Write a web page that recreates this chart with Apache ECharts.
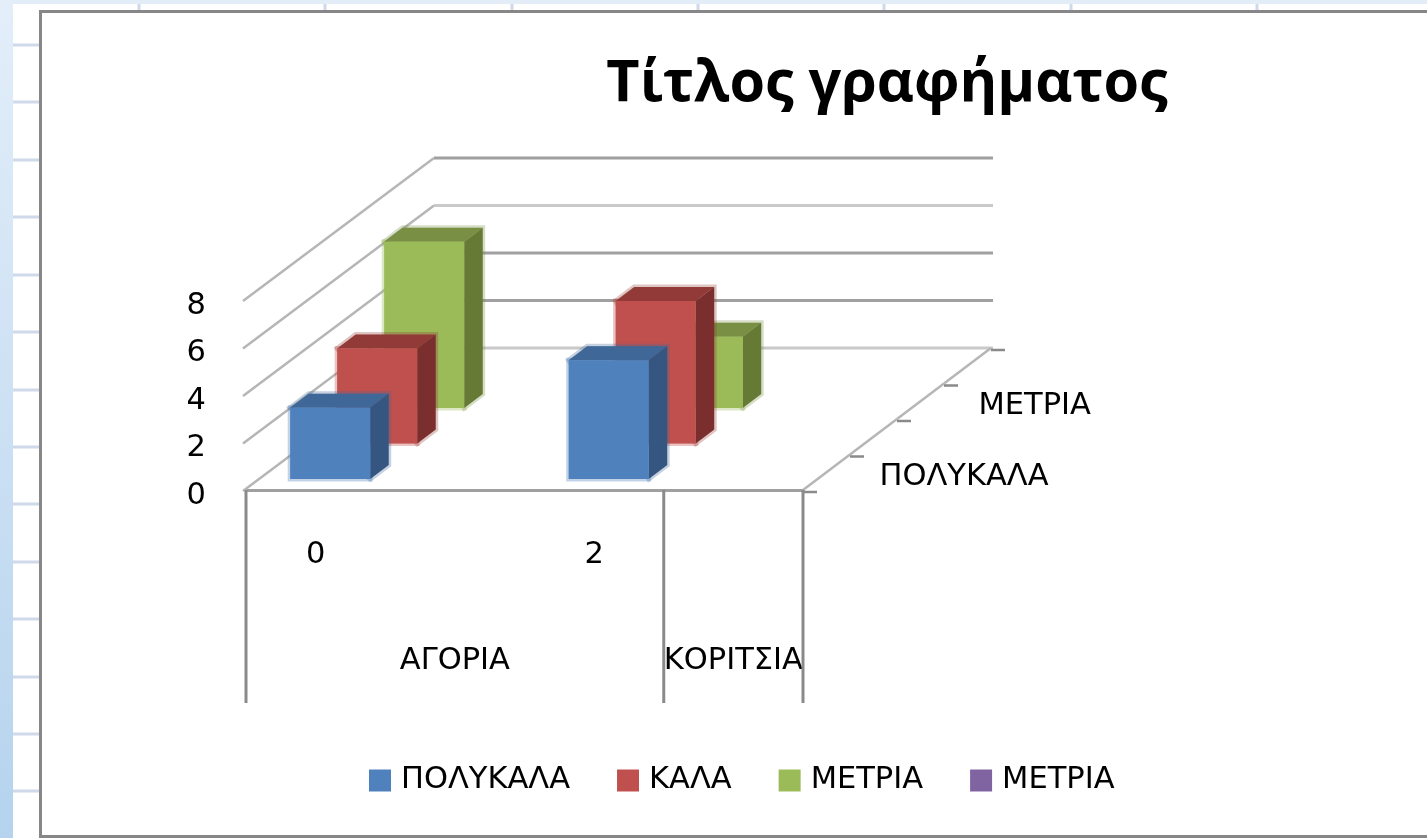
<!DOCTYPE html>
<html><head><meta charset="utf-8">
<style>html,body{margin:0;padding:0;background:#fff}#c{width:1427px;height:838px}</style>
<script src="https://cdn.jsdelivr.net/npm/echarts@6/dist/echarts.min.js"></script>
</head><body><div id="c"></div>
<script>
const titleText = 'Τίτλος γραφήματος';
const categories = ['0', '', '2', ''];
const groupLabels = ['', 'ΑΓΟΡΙΑ', '', 'ΚΟΡΙΤΣΙΑ'];
const groupBoundaries = [0, 3, 4];
const yTicks = [0, 2, 4, 6, 8];
const depthLabels = ['ΠΟΛΥΚΑΛΑ', '', 'ΜΕΤΡΙΑ', '', ''];
const legendNames = ['ΠΟΛΥΚΑΛΑ', 'ΚΑΛΑ', 'ΜΕΤΡΙΑ', 'ΜΕΤΡΙΑ '];
const polykala = [3, null, 5, null];
const kala = [4, null, 6, null];
const metria = [7, null, 3, null];
const metria2 = [null, null, null, null];

const FONT = 'DejaVu Sans';
const FS = 30.5;
const LAYER_DX = 47, LAYER_DY = -35.5, LAYERS = 4;
const BAR_W = 80, BAR_DX = 18.5, BAR_DY = -14, BAR_START = 0.31;
const palettes = [
  {front:'#4f81bd', side:'#355681', top:'#3f6797'},
  {front:'#c0504d', side:'#7a2f2e', top:'#923a38'},
  {front:'#9bbb59', side:'#667935', top:'#788f44'},
  {front:'#8064a2', side:'#54406d', top:'#66507f'}
];
const seriesValues = [polykala, kala, metria, metria2];

function poly(points, fill, extra) {
  return Object.assign({type:'polygon', shape:{points}, style:{fill}}, extra || {});
}
function barRenderer(layer) {
  const p = palettes[layer];
  return function (params, api) {
    const v = api.value(1);
    if (v == null || isNaN(v)) return null;
    const c = api.value(0);
    const base = api.coord([c, 0]);
    const top = api.coord([c, v]);
    const off = layer + BAR_START;
    const x0 = base[0] - BAR_W / 2 + off * LAYER_DX;
    const x1 = x0 + BAR_W;
    const yb = base[1] + off * LAYER_DY;
    const yt = top[1] + off * LAYER_DY;
    const backPart = [[x0,yt],[x0+BAR_DX,yt+BAR_DY],[x1+BAR_DX,yt+BAR_DY],[x1+BAR_DX,yb+BAR_DY],[x1,yb]];
    return {type:'group', children:[
      {type:'polygon', shape:{points:backPart}, style:{fill:p.top, stroke:p.top, lineWidth:5, opacity:0.3}},
      {type:'rect', shape:{x:x0,y:yt,width:BAR_W,height:yb-yt}, style:{fill:p.front, stroke:p.front, lineWidth:5, opacity:0.35}},
      poly([[x0,yt],[x0+BAR_DX,yt+BAR_DY],[x1+BAR_DX,yt+BAR_DY],[x1,yt]], p.top),
      poly([[x1,yt],[x1+BAR_DX,yt+BAR_DY],[x1+BAR_DX,yb+BAR_DY],[x1,yb]], p.side),
      {type:'rect', shape:{x:x0,y:yt,width:BAR_W,height:yb-yt}, style:{fill:p.front}}
    ]};
  };
}
function line(x1,y1,x2,y2,stroke,lineWidth) {
  return {type:'line', shape:{x1,y1,x2,y2}, style:{stroke,lineWidth}};
}
function wallRenderer(params, api) {
  const v = api.value(0);
  const left = api.coord([0, v]);
  const band = api.size([1, 0])[0];
  const x0 = left[0] - band / 2;
  const bx = x0 + LAYERS * LAYER_DX, by = left[1] + LAYERS * LAYER_DY;
  const xEnd = x0 + band * categories.length + LAYERS * LAYER_DX;
  const light = (v === 0 || v === 6);
  return {type:'group', children:[
    line(x0-3, left[1]+1, bx, by, '#b6b6b6', 2.5),
    line(bx, by, xEnd+2, by, light ? '#c9c9c9' : '#a0a0a0', 3)
  ]};
}
function depthRenderer(params, api) {
  const i = params.dataIndex;
  const base = api.coord([categories.length - 1, 0]);
  const band = api.size([1, 0])[0];
  const x0 = base[0] + band / 2, y0 = base[1];
  const children = [];
  const tx = x0 + i * LAYER_DX, ty = y0 + i * LAYER_DY;
  if (i < LAYERS) children.push(line(tx, ty, tx + LAYER_DX, ty + LAYER_DY, '#b6b6b6', 2.5));
  children.push(line(tx, ty + 2, tx + 14, ty + 2, '#8a8a8a', 2.5));
  const label = depthLabels[i];
  if (label) children.push({type:'text', style:{
    x: tx + LAYER_DX / 2 + 53 + i * 2.5, y: ty + LAYER_DY / 2 + 5, text: label,
    fill:'#000', font:FS+'px "'+FONT+'"', align:'left', verticalAlign:'middle'}});
  return {type:'group', children};
}
function boundaryRenderer(params, api) {
  const idx = api.value(0);
  const base = api.coord([0, 0]);
  const band = api.size([1, 0])[0];
  const x = base[0] - band / 2 + idx * band;
  return line(x, base[1], x, base[1] + 213, '#8a8a8a', 3);
}

const hRows = [45,102,160,217,275,332,390,447,504,562,619,677,734,791];
const vCols = [139,325,512,698,884,1071,1257];
const deco = [
  {type:'rect', z:-10, shape:{x:0,y:0,width:1427,height:4}, style:{fill:'#e3edf8'}},
  {type:'rect', z:-9, shape:{x:0,y:0,width:13,height:838}, style:{fill:new echarts.graphic.LinearGradient(0,0,0,1,[{offset:0,color:'#e3eef9'},{offset:1,color:'#b5d3ee'}])}},
  {type:'rect', z:-8, shape:{x:40.5,y:11.5,width:1500,height:825}, style:{fill:'#fff',stroke:'#878787',lineWidth:3}}
];
hRows.forEach(y => deco.push({type:'rect', z:-9, shape:{x:13,y:y-1.5,width:26,height:3}, style:{fill:'#ced9e9'}}));
vCols.forEach(x => deco.push({type:'rect', z:-9, shape:{x:x-1.5,y:4,width:3,height:6}, style:{fill:'#ced9e9'}}));

const barSeries = legendNames.map((name, i) => ({
  name, type:'custom', z: 10 - i,
  coordinateSystem:'cartesian2d', xAxisIndex:0, yAxisIndex:0,
  itemStyle:{color:palettes[i].front},
  renderItem: barRenderer(i),
  encode:{x:0,y:1},
  data: seriesValues[i].map((v, c) => [c, v == null ? '-' : v])
}));

const chart = echarts.init(document.getElementById('c'), null, {renderer:'canvas'});
chart.setOption({
  animation:false,
  backgroundColor:'#fff',
  title:{text:titleText, left:887, top:56, textAlign:'center', padding:0,
    textStyle:{fontFamily:'Open Sans', fontSize:57.5, fontWeight:'bold', color:'#000'}},
  grid:{left:246, right:624, top:300, bottom:348},
  legend:{left:369, top:765, padding:0, icon:'rect', itemWidth:22, itemHeight:22, itemGap:47,
    selectedMode:false, data:legendNames, formatter:n => n.trim(),
    textStyle:{fontFamily:FONT, fontSize:FS, color:'#000', padding:[0,0,0,5]}},
  xAxis:[
    {type:'category', data:categories, position:'bottom',
      axisLine:{show:true, lineStyle:{color:'#a0a0a0', width:3}}, axisTick:{show:false},
      axisLabel:{interval:0, margin:50, fontFamily:FONT, fontSize:FS, color:'#000'}},
    {type:'category', data:groupLabels, position:'bottom',
      axisLine:{show:false}, axisTick:{show:false},
      axisLabel:{interval:0, margin:156, fontFamily:FONT, fontSize:FS, color:'#000'}}
  ],
  yAxis:{type:'value', min:0, max:8, interval:2,
    axisLine:{show:false}, axisTick:{show:false}, splitLine:{show:false},
    axisLabel:{margin:40, fontFamily:FONT, fontSize:FS, color:'#000', verticalAlign:'top', lineHeight:12}},
  graphic:{elements:deco},
  series:[
    {type:'custom', name:'walls', z:1, renderItem:wallRenderer, encode:{y:0}, data:yTicks.map(v=>[v]), silent:true},
    {type:'custom', name:'depth', z:1, renderItem:depthRenderer, data:depthLabels.map((l,i)=>[i]), silent:true},
    {type:'custom', name:'bounds', z:1, renderItem:boundaryRenderer, data:groupBoundaries.map(b=>[b]), silent:true}
  ].concat(barSeries)
});
</script></body></html>
